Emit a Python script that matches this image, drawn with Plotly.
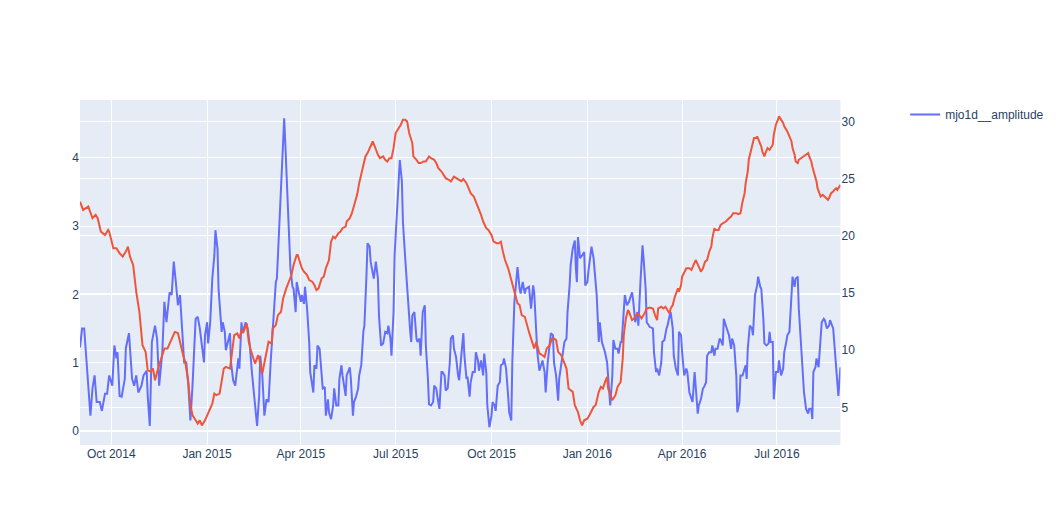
import pandas as pd
import plotly.graph_objects as go
from plotly.subplots import make_subplots

START_DATE = "2014-09-01"

# mjo1d__amplitude (left axis): days since START_DATE, value
amp_days = [0, 2, 4, 6, 8, 10, 12, 14, 16, 19, 21, 24, 26, 28, 31, 33, 35, 36, 38, 40, 43, 44, 47, 48, 50, 52, 54, 56, 59, 61, 64, 65, 67, 69, 72, 74, 76, 79, 81, 83, 86, 88, 90, 92, 94, 96, 98, 100, 102, 104, 106, 108, 111, 113, 115, 117, 119, 120, 122, 123, 125, 127, 129, 130, 132, 133, 136, 137, 139, 140, 142, 144, 145, 147, 149, 152, 153, 155, 156, 159, 161, 163, 165, 168, 170, 172, 173, 175, 177, 179, 181, 183, 185, 187, 188, 189, 191, 192, 194, 196, 197, 199, 200, 202, 204, 205, 207, 208, 210, 212, 213, 215, 216, 218, 220, 221, 224, 225, 227, 228, 230, 232, 233, 235, 236, 238, 239, 241, 243, 244, 246, 248, 249, 251, 252, 255, 256, 259, 260, 262, 263, 265, 267, 268, 270, 272, 273, 275, 276, 278, 279, 282, 284, 286, 287, 289, 291, 293, 295, 296, 298, 299, 301, 302, 304, 306, 307, 309, 310, 312, 314, 315, 317, 318, 319, 321, 323, 324, 326, 327, 329, 331, 332, 334, 335, 337, 339, 340, 342, 343, 345, 347, 348, 350, 351, 353, 355, 356, 358, 359, 361, 363, 364, 366, 368, 369, 371, 372, 374, 375, 377, 379, 380, 382, 383, 385, 387, 388, 390, 391, 393, 395, 396, 398, 399, 401, 403, 404, 406, 407, 409, 411, 412, 414, 415, 417, 419, 420, 422, 423, 425, 427, 428, 430, 431, 433, 435, 436, 438, 439, 441, 443, 444, 446, 447, 449, 451, 452, 454, 455, 457, 459, 460, 462, 463, 465, 467, 468, 470, 471, 473, 475, 476, 477, 478, 480, 482, 484, 485, 487, 488, 490, 491, 493, 495, 496, 498, 499, 501, 503, 504, 506, 508, 509, 511, 512, 514, 516, 517, 519, 520, 522, 523, 525, 527, 528, 530, 531, 533, 535, 536, 538, 540, 541, 543, 544, 546, 547, 550, 551, 553, 554, 556, 558, 559, 561, 563, 564, 566, 567, 569, 570, 572, 574, 575, 577, 578, 580, 582, 583, 585, 586, 588, 590, 591, 593, 594, 596, 598, 599, 601, 602, 604, 606, 607, 609, 610, 612, 614, 615, 617, 618, 620, 622, 623, 625, 626, 628, 630, 631, 633, 634, 636, 638, 639, 640, 641, 643, 645, 646, 648, 650, 651, 653, 654, 656, 657, 659, 661, 662, 663, 665, 666, 668, 670, 671, 673, 675, 676, 678, 679, 681, 683, 684, 686, 687, 689, 690, 692, 694, 695, 697, 699, 700, 702, 703, 704, 706, 707, 709, 710, 712, 714, 715, 717, 719, 720, 722, 723, 725, 727, 728, 730]
amp_vals = [1.22, 1.50, 1.50, 1.06, 0.62, 0.22, 0.62, 0.81, 0.42, 0.42, 0.29, 0.54, 0.54, 0.81, 0.66, 1.25, 1.06, 1.15, 0.51, 0.50, 0.76, 1.21, 1.43, 1.21, 0.76, 0.66, 0.81, 0.56, 0.66, 0.81, 0.88, 0.51, 0.07, 1.30, 1.54, 1.35, 0.66, 1.15, 1.89, 1.59, 2.03, 1.99, 2.48, 2.18, 1.84, 1.99, 1.50, 1.00, 1.00, 0.66, 0.15, 0.66, 1.64, 1.67, 1.50, 1.25, 1.00, 1.40, 1.59, 1.28, 1.59, 2.23, 2.57, 2.94, 2.67, 2.08, 1.45, 1.59, 1.45, 1.18, 1.30, 1.43, 1.00, 0.74, 0.66, 1.06, 0.91, 1.59, 1.43, 1.59, 1.50, 1.25, 0.86, 0.37, 0.07, 0.51, 1.10, 0.81, 0.22, 0.46, 0.42, 1.00, 1.50, 1.89, 2.18, 2.23, 2.87, 3.16, 3.95, 4.58, 4.24, 3.55, 2.97, 2.38, 2.11, 2.08, 1.74, 2.18, 2.03, 1.89, 1.99, 1.86, 2.11, 1.79, 1.30, 0.86, 0.56, 0.96, 0.91, 1.25, 1.20, 0.76, 0.62, 0.64, 0.22, 0.46, 0.27, 0.17, 0.37, 0.62, 0.37, 0.37, 0.76, 0.96, 0.81, 0.51, 0.81, 0.93, 0.76, 0.22, 0.42, 0.50, 0.62, 0.81, 0.96, 1.45, 1.54, 2.28, 2.75, 2.70, 2.48, 2.23, 2.48, 2.23, 1.69, 1.25, 1.28, 1.45, 1.43, 1.54, 1.35, 1.10, 1.74, 2.57, 3.21, 3.70, 3.97, 3.65, 3.06, 2.57, 2.08, 1.84, 1.45, 1.30, 1.69, 1.74, 1.35, 1.30, 1.35, 1.10, 1.74, 1.84, 1.25, 0.76, 0.39, 0.37, 0.42, 0.66, 0.62, 0.51, 0.32, 0.86, 0.86, 0.81, 0.59, 0.62, 1.00, 1.35, 1.40, 1.20, 1.08, 0.80, 0.74, 1.10, 1.43, 1.10, 0.76, 0.79, 0.50, 0.71, 0.86, 0.86, 1.15, 1.03, 0.88, 1.03, 0.81, 1.13, 0.86, 0.37, 0.05, 0.22, 0.42, 0.37, 0.29, 0.66, 0.71, 0.96, 0.98, 1.06, 0.91, 0.51, 0.27, 0.15, 1.00, 1.89, 2.33, 2.40, 2.08, 2.01, 2.18, 2.01, 2.08, 2.11, 2.11, 1.79, 2.13, 2.03, 1.54, 1.15, 0.88, 0.96, 1.03, 0.86, 0.56, 1.00, 1.25, 1.43, 1.40, 1.00, 0.81, 0.44, 0.76, 1.00, 1.06, 1.30, 1.35, 1.74, 2.13, 2.43, 2.67, 2.79, 2.38, 2.18, 2.84, 2.53, 2.57, 2.62, 2.13, 2.18, 2.33, 2.53, 2.70, 2.53, 2.13, 1.99, 1.30, 1.59, 1.30, 1.20, 1.15, 1.00, 0.66, 0.37, 0.81, 1.33, 1.20, 1.20, 1.13, 1.30, 1.30, 1.74, 1.99, 1.84, 1.89, 1.94, 2.03, 1.91, 1.59, 1.74, 1.54, 2.18, 2.72, 2.53, 2.08, 1.59, 1.54, 1.52, 1.50, 1.15, 0.86, 0.91, 0.81, 1.00, 1.30, 1.33, 1.50, 1.54, 1.69, 1.74, 1.50, 1.10, 0.91, 0.81, 1.45, 1.40, 1.15, 0.81, 0.91, 0.86, 0.56, 0.51, 0.42, 0.86, 0.62, 0.25, 0.37, 0.46, 0.62, 0.64, 0.71, 1.10, 1.15, 1.15, 1.25, 1.10, 1.20, 1.20, 1.35, 1.33, 1.25, 1.64, 1.54, 1.43, 1.40, 1.20, 1.35, 1.25, 0.81, 0.27, 0.42, 0.81, 0.81, 0.91, 0.96, 0.76, 1.20, 1.54, 1.50, 1.40, 1.99, 2.13, 2.26, 2.11, 2.08, 1.64, 1.28, 1.25, 1.28, 1.45, 1.30, 1.30, 0.46, 0.86, 0.86, 1.03, 0.81, 0.91, 1.15, 1.30, 1.40, 1.45, 1.89, 2.26, 2.11, 2.23, 2.26, 1.79, 1.30, 0.66, 0.56, 0.32, 0.25, 0.32, 0.32, 0.17, 0.86, 0.93, 1.06, 0.93, 1.20, 1.59, 1.64, 1.62, 1.50, 1.54, 1.62, 1.54, 1.50, 1.10, 0.71, 0.51, 0.93]

# second series (right axis, no legend entry): days since START_DATE, value
sec_days = [0, 3, 8, 12, 15, 17, 20, 24, 27, 28, 32, 35, 38, 41, 44, 46, 48, 51, 54, 57, 60, 63, 65, 68, 70, 72, 75, 78, 81, 84, 88, 91, 94, 97, 99, 101, 104, 106, 108, 111, 113, 115, 117, 120, 122, 124, 127, 129, 131, 134, 136, 138, 140, 144, 146, 148, 151, 153, 155, 157, 160, 162, 164, 167, 168, 171, 172, 175, 177, 179, 181, 184, 185, 188, 190, 193, 195, 198, 201, 203, 205, 208, 209, 211, 213, 215, 218, 220, 223, 225, 227, 229, 232, 234, 236, 239, 241, 243, 245, 248, 250, 252, 255, 256, 259, 261, 263, 266, 268, 270, 272, 274, 276, 279, 281, 283, 286, 288, 291, 293, 295, 297, 299, 301, 303, 306, 308, 310, 312, 314, 316, 319, 320, 323, 325, 327, 330, 332, 335, 337, 340, 342, 344, 347, 349, 351, 354, 356, 359, 361, 364, 366, 368, 371, 373, 375, 378, 380, 383, 385, 387, 390, 392, 395, 397, 400, 402, 404, 406, 408, 411, 413, 415, 418, 420, 422, 424, 427, 429, 431, 434, 436, 438, 441, 444, 446, 448, 451, 453, 455, 457, 459, 462, 464, 467, 469, 471, 473, 475, 478, 480, 482, 484, 487, 489, 491, 493, 495, 498, 500, 502, 504, 506, 507, 509, 511, 514, 516, 518, 519, 521, 522, 524, 526, 527, 530, 532, 535, 537, 539, 542, 544, 547, 550, 552, 554, 555, 558, 560, 562, 564, 566, 567, 569, 571, 574, 575, 577, 578, 580, 582, 585, 587, 589, 591, 594, 596, 598, 600, 602, 604, 606, 607, 609, 610, 613, 615, 617, 620, 623, 625, 627, 630, 632, 634, 636, 638, 639, 641, 642, 644, 646, 647, 649, 650, 652, 654, 655, 657, 658, 660, 662, 663, 665, 666, 668, 670, 671, 673, 675, 676, 678, 679, 681, 683, 684, 686, 687, 689, 690, 692, 694, 695, 697, 699, 700, 702, 703, 705, 707, 708, 710, 711, 713, 715, 716, 718, 719, 721, 723, 724, 726, 727, 730]
sec_vals = [23.0, 22.28, 22.57, 21.55, 21.84, 21.55, 20.38, 20.09, 20.53, 20.38, 18.92, 18.92, 18.48, 18.19, 18.63, 19.06, 18.19, 17.46, 15.11, 13.36, 10.44, 9.85, 8.25, 8.11, 8.4, 7.37, 8.4, 9.27, 10.15, 10.15, 11.03, 11.6, 11.5, 10.15, 9.56, 8.98, 7.22, 5.18, 4.30, 3.86, 3.57, 3.86, 3.42, 3.86, 4.30, 4.59, 5.32, 6.20, 6.06, 6.20, 7.52, 8.39, 8.54, 8.39, 9.85, 11.32, 11.47, 11.03, 11.75, 11.6, 12.34, 10.73, 10.0, 8.98, 8.83, 9.56, 9.27, 7.96, 8.98, 9.71, 10.73, 10.59, 11.90, 12.20, 13.07, 13.36, 14.54, 15.41, 16.14, 16.58, 17.46, 18.33, 18.33, 17.75, 17.17, 16.87, 16.58, 16.14, 16.0, 15.70, 15.26, 15.41, 16.29, 16.43, 17.17, 17.89, 19.50, 19.94, 19.79, 20.24, 20.38, 20.68, 20.82, 21.26, 21.55, 21.99, 22.72, 23.6, 24.62, 25.35, 26.23, 26.96, 27.25, 27.83, 28.27, 27.83, 27.1, 26.81, 26.96, 26.67, 26.52, 26.81, 26.81, 27.69, 29.01, 29.45, 29.74, 30.18, 30.18, 30.03, 29.01, 28.13, 26.96, 26.67, 26.38, 26.38, 26.52, 26.52, 26.96, 26.81, 26.67, 26.38, 25.94, 25.64, 25.35, 25.06, 24.91, 24.76, 25.2, 25.1, 24.95, 24.8, 24.99, 24.62, 24.18, 23.74, 23.45, 23.0, 22.43, 21.84, 21.26, 20.68, 20.53, 20.09, 19.5, 19.36, 19.36, 19.5, 18.62, 17.89, 17.17, 16.43, 15.70, 14.82, 14.1, 13.95, 13.07, 12.92, 12.19, 11.6, 10.73, 10.15, 10.73, 9.71, 9.56, 9.41, 10.15, 10.44, 11.03, 11.03, 10.88, 9.85, 9.56, 9.12, 8.39, 6.64, 6.49, 6.35, 5.18, 4.59, 3.86, 3.42, 3.86, 4.0, 4.30, 4.74, 5.03, 5.18, 6.35, 6.79, 6.64, 7.22, 7.66, 6.64, 6.06, 5.62, 6.06, 6.79, 7.08, 7.22, 9.27, 11.32, 12.78, 13.51, 13.36, 12.63, 12.78, 13.22, 13.07, 12.78, 13.22, 13.65, 13.74, 13.65, 13.07, 12.63, 13.65, 13.8, 13.65, 13.8, 13.5, 13.22, 13.65, 13.95, 14.68, 15.41, 15.11, 15.70, 16.43, 16.87, 17.17, 17.17, 17.02, 17.46, 17.89, 17.31, 16.87, 17.17, 17.75, 17.89, 18.62, 19.06, 19.79, 20.68, 20.53, 20.53, 20.97, 21.11, 21.26, 21.55, 21.70, 21.99, 21.99, 21.9, 21.99, 23.0, 23.74, 24.62, 25.64, 26.67, 27.54, 28.27, 28.57, 28.57, 28.71, 28.27, 27.83, 27.39, 26.96, 27.25, 27.69, 27.54, 27.69, 27.98, 28.86, 29.74, 30.18, 30.47, 30.18, 29.89, 29.59, 29.30, 29.15, 28.71, 28.27, 27.69, 27.1, 26.52, 26.38, 26.67, 26.81, 26.96, 26.96, 27.1, 27.25, 26.96, 26.52, 26.08, 25.49, 24.76, 24.18, 23.74, 23.45, 23.6, 23.45, 23.3, 23.16, 23.3, 23.74, 23.89, 24.03, 24.18, 24.03, 24.47]

start = pd.Timestamp(START_DATE)
amp_dates = [start + pd.Timedelta(days=d) for d in amp_days]
sec_dates = [start + pd.Timedelta(days=d) for d in sec_days]

fig = make_subplots(specs=[[{"secondary_y": True}]])
fig.add_trace(go.Scatter(x=amp_dates, y=amp_vals, mode="lines",
                         name="mjo1d__amplitude", line=dict(color="#636EFA")),
              secondary_y=False)
fig.add_trace(go.Scatter(x=sec_dates, y=sec_vals, mode="lines",
                         name="", showlegend=False, line=dict(color="#EF553B")),
              secondary_y=True)

fig.update_layout(
    template="plotly",
    width=1061, height=525,
    showlegend=True,
    font=dict(family="Liberation Sans, Arial, sans-serif"),
)
fig.update_xaxes(type="date")
fig.update_yaxes(range=[-0.21, 4.85], secondary_y=False)
fig.update_yaxes(range=[1.7, 31.9], secondary_y=True)

fig.write_html("out.html")
